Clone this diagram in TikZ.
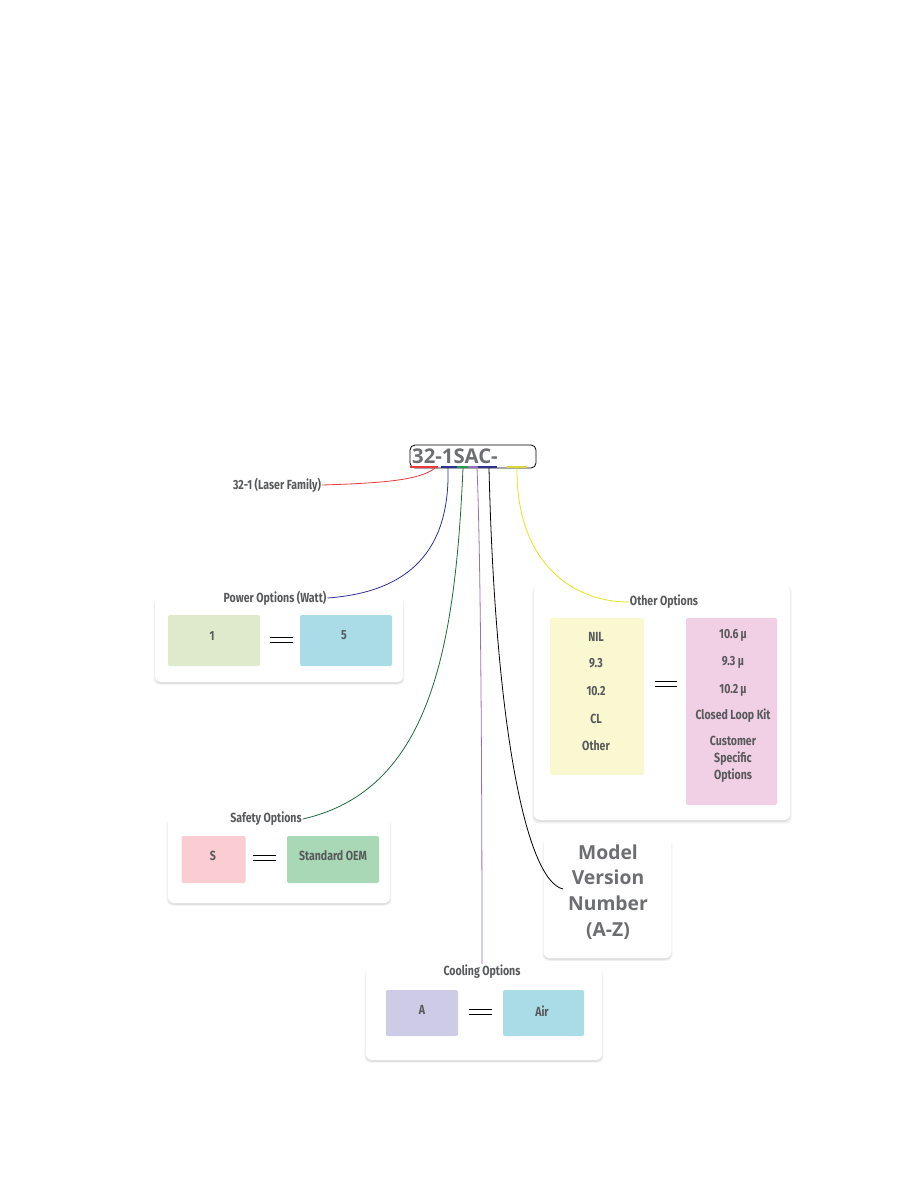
\documentclass[tikz,border=0pt]{standalone}
\usepackage{fontspec}
\setmainfont{Open Sans}
\newfontfamily\lbl[FakeStretch=0.8]{Fira Sans}
\usetikzlibrary{shadows}
\definecolor{txtgray}{HTML}{58595B}
\definecolor{biggray}{HTML}{6D6E71}
\definecolor{cgreen}{HTML}{DEEACA}
\definecolor{cblue}{HTML}{A9DCE6}
\definecolor{cyellow}{HTML}{F9F8D0}
\definecolor{cpink}{HTML}{F1CFE5}
\definecolor{cred}{HTML}{F9CDD1}
\definecolor{cmint}{HTML}{A9D8B7}
\definecolor{clav}{HTML}{CDCBE5}
\definecolor{lred}{HTML}{E8393D}
\definecolor{lblue}{HTML}{2E3192}
\definecolor{lgreen}{HTML}{1FA050}
\definecolor{ldgreen}{HTML}{1B6B3A}
\definecolor{lpurple}{HTML}{9B6FB5}
\definecolor{lyellow}{HTML}{D8D83A}
\definecolor{lyel2}{HTML}{E4E41E}
\begin{document}
\begin{tikzpicture}[x=1pt,y=-1pt,
  panel/.style={fill=white, rounded corners=6pt, inner sep=0pt,
    general shadow={shadow scale=1.012, shadow yshift=-2pt, opacity=0.06, fill=black},
    drop shadow={shadow xshift=0pt, shadow yshift=-1.8pt, opacity=0.16, fill=black!45}},
  tag/.style={font=\lbl\bfseries\fontsize{13.2}{15}\selectfont, text=txtgray, inner sep=1pt},
  cell/.style={rounded corners=2pt, inner sep=0pt},
  ctext/.style={font=\lbl\bfseries\fontsize{13.2}{15}\selectfont, text=txtgray, inner sep=1pt},
  eq/.style={double, double distance=4.5pt, line width=1.1pt, draw=black},
  ul/.style={line width=1.6pt},
  conn/.style={line width=0.8pt}
]
\useasboundingbox (0,0) rectangle (918,1188);

% top code box
\node[draw=black, line width=0.8pt, rounded corners=5pt, minimum width=126pt, minimum height=23pt, inner sep=0pt] (code) at (473,456.5) {};
\node[anchor=west, font=\bfseries\fontsize{20.3}{22}\selectfont, text=biggray, inner sep=0pt] (codetxt) at (412,456) {32-1SAC-};

% underline segments
\draw[ul, lred] (410,467) -- (438,467);
\draw[ul, lblue] (441,467) -- (457,467);
\draw[ul, lgreen] (457,467) -- (468,467);
\draw[ul, lpurple] (468,467) -- (478,467);
\draw[ul, lblue] (478,467) -- (497,467);
\draw[ul, lyellow] (507,467) -- (527,467);

\coordinate (cRed) at (435,468);
\coordinate (cBlue) at (448,468);
\coordinate (cGreen) at (463,468);
\coordinate (cPurple) at (477,468);
\coordinate (cBlack) at (489,468);
\coordinate (cYellow) at (517,468);

% panels
\node[panel, minimum width=248pt, minimum height=85pt] (powerP) at (279,639.5) {};
\node[panel, minimum width=256pt, minimum height=235pt] (otherP) at (662,702.5) {};
\node[panel, minimum width=222pt, minimum height=85pt] (safetyP) at (279,860.5) {};
\node[panel, minimum width=128pt, minimum height=120pt] (modelP) at (607.5,898) {};
\node[panel, minimum width=236pt, minimum height=92pt] (coolP) at (484,1014) {};

% labels
\node[tag] (laser) at (277,485) {32-1 (Laser Family)};
\node[tag] (power) at (275,598) {Power Options (Watt)};
\node[tag] (other) at (664,602) {Other Options};
\node[tag] (safety) at (266,819) {Safety Options};
\node[tag] (cool) at (482,972) {Cooling Options};

% power cells
\node[cell, fill=cgreen, minimum width=92pt, minimum height=51pt] (p1) at (214,640.5) {};
\node[ctext] (p1t) at (212,636) {1};
\node[cell, fill=cblue, minimum width=92pt, minimum height=51pt] (p5) at (346,640.5) {};
\node[ctext] (p5t) at (344,635) {5};
\coordinate (pe1) at (270,640); \coordinate (pe2) at (293,640);
\draw[eq] (pe1) -- (pe2);

% other cells
\node[cell, fill=cyellow, minimum width=94pt, minimum height=157pt] (oy) at (597,696.5) {};
\node[cell, fill=cpink, minimum width=91pt, minimum height=187pt] (op) at (731.5,711.5) {};
\node[ctext] (o1) at (596,637) {NIL};
\node[ctext] (o2) at (596,663) {9.3};
\node[ctext] (o3) at (596,691) {10.2};
\node[ctext] (o4) at (596,719) {CL};
\node[ctext] (o5) at (596,746) {Other};
\node[ctext] (q1) at (733,635) {10.6\,µ};
\node[ctext] (q2) at (733,662) {9.3 µ};
\node[ctext] (q3) at (733,690) {10.2\,µ};
\node[ctext] (q4) at (733,716) {Closed Loop Kit};
\node[ctext, align=center, font=\lbl\bfseries\fontsize{13.2}{17}\selectfont] (q5) at (733,759) {Customer\\Specific\\Options};
\coordinate (oe1) at (655,684); \coordinate (oe2) at (677,684);
\draw[eq] (oe1) -- (oe2);

% safety cells
\node[cell, fill=cred, minimum width=64pt, minimum height=47pt] (sS) at (213.5,859.5) {};
\node[ctext] (sSt) at (213,856) {S};
\node[cell, fill=cmint, minimum width=92pt, minimum height=47pt] (sO) at (333,859.5) {};
\node[ctext] (sOt) at (333,856) {Standard OEM};
\coordinate (se1) at (253,858); \coordinate (se2) at (276,858);
\draw[eq] (se1) -- (se2);

% model
\node[align=center, font=\bfseries\fontsize{19.3}{25.7}\selectfont, text=biggray, inner sep=0pt] (model) at (608,892) {Model\\Version\\Number\\(A-Z)};

% cooling cells
\node[cell, fill=clav, minimum width=72pt, minimum height=46pt] (cA) at (422,1013) {};
\node[ctext] (cAt) at (422,1010) {A};
\node[cell, fill=cblue, minimum width=81pt, minimum height=46pt] (cAir) at (543.5,1013) {};
\node[ctext] (cAirt) at (542,1011) {Air};
\coordinate (ce1) at (469,1012); \coordinate (ce2) at (492,1012);
\draw[eq] (ce1) -- (ce2);

% connectors
\coordinate (modelEnd) at (563,889);
\draw[conn, lred] (laser.east) .. controls (385,483) and (420,480) .. (cRed);
\draw[conn, lblue] (cBlue) .. controls (450,550) and (410,592) .. (power.east);
\draw[conn, ldgreen] (cGreen) .. controls (455,650) and (430,790) .. (safety.east);
\draw[conn, lpurple] (cPurple) .. controls (481,560) and (482,800) .. (cool.north);
\draw[conn, black] (cBlack) .. controls (495,720) and (525,880) .. (modelEnd);
\draw[conn, lyel2] (cYellow) .. controls (516,560) and (570,602) .. (other.west);
\end{tikzpicture}
\end{document}
